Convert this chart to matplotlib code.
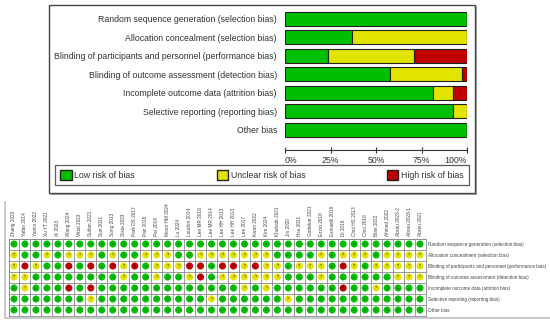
import numpy as np
import matplotlib
matplotlib.use("Agg")
import matplotlib.pyplot as plt
from matplotlib.patches import Patch, Rectangle

plt.rcParams['font.family'] = ['Liberation Sans', 'DejaVu Sans']

domains = [
    "Random sequence generation (selection bias)",
    "Allocation concealment (selection bias)",
    "Blinding of participants and personnel (performance bias)",
    "Blinding of outcome assessment (detection bias)",
    "Incomplete outcome data (attrition bias)",
    "Selective reporting (reporting bias)",
    "Other bias",
]

studies = [
    "Zhang 2020", "Yafan 2014", "Yamin 2022", "Xu YT 2021", "Xi 2023",
    "Wang 2024", "Vittal 2023", "Sultan 2021", "Sun 2021", "Song 2013",
    "Sixta 2023", "Park DS 2017", "Pan 2018", "Pei 2014", "Moon HM 2024",
    "Lu 2024", "Loudon 2014", "Lee MR 2018", "Lee MR 2014", "Lee HH 2013",
    "Lee HH 2013", "Lee 2017", "Kwon 2022", "Kim 2024", "Khubaib 2021",
    "Jin 2020", "Hsu 2021", "Gadekar 2021", "Ezzat 2018", "Esmaeili 2019",
    "Di 2018", "Choi HS 2013", "Choi 2018", "Bian 2022", "Ahmad 2022",
    "Abreu 2023-2", "Abreu 2023-1", "Abreu 2021",
]

# one string per domain, one character per study: + low, ? unclear, - high
judgements = [
    "++++++++++" "++++++++++" "++++++++++" "++++++++",
    "?++?+???+?" "++???++???" "????++++?+" "???+????",
    "?-?++-+-+-" "?-+???--+-" "-?-??+???+" "-?+?????",
    "??++++++++" "?++?++?-+?" "?????+++?+" "+++++???",
    "+?+++-+-++" "++++++++++" "+?+?++++++" "-++?++++",
    "+++++++?++" "++++++++?+" "+++++?++++" "++++++++",
    "++++++++++" "++++++++++" "++++++++++" "++++++++",
]

GREEN = "#00bf00"
YELLOW = "#e3e300"
RED = "#c00000"
colors = {"+": GREEN, "?": YELLOW, "-": RED}
symbols = {"+": "+", "?": "?", "-": "\u2212"}

W, H = 550, 323


def box(x0, y0, x1, y1):
    return [x0 / W, 1 - y1 / H, (x1 - x0) / W, (y1 - y0) / H]


fig = plt.figure(figsize=(5.5, 3.23), dpi=100)

# frames
bg = fig.add_axes([0, 0, 1, 1], zorder=0)
bg.set_xlim(0, W)
bg.set_ylim(H, 0)
bg.axis('off')
bg.add_patch(Rectangle((48.5, 4.5), 426, 188.5, fill=False, ec='#444', lw=1))
bg.plot([49.5, 475.5, 475.5], [194.3, 194.3, 5.5], color='#999', lw=0.8)
bg.plot([4.5, 4.5, 550], [202, 318, 318], color='#c8c8c8', lw=1.4)

# summary bars
n = len(studies)
low = np.array([r.count('+') for r in judgements]) / n * 100
unc = np.array([r.count('?') for r in judgements]) / n * 100
high = np.array([r.count('-') for r in judgements]) / n * 100
y = np.arange(len(domains))

ax = fig.add_axes(box(285, 9.45, 467, 138.95), zorder=2)
kw = dict(height=0.76, edgecolor='#222', linewidth=0.8)
ax.barh(y, low, color=GREEN, **kw)
ax.barh(y, unc, left=low, color=YELLOW, **kw)
ax.barh(y, high, left=low + unc, color=RED, **kw)
ax.set_xlim(0, 100)
ax.set_ylim(len(domains) - 0.5, -0.5)
ax.set_yticks(y, domains)
ax.tick_params(axis='y', length=0, pad=5.8, labelsize=6.3, labelcolor='#333')
for s in ['top', 'right', 'left']:
    ax.spines[s].set_visible(False)
ax.spines['bottom'].set_position(('outward', 8))
ax.spines['bottom'].set_color('#333')
ax.spines['bottom'].set_linewidth(0.8)
ax.set_xticks([0, 25, 50, 75, 100], ['0%', '25%', '50%', '75%', '100%'])
ax.tick_params(axis='x', direction='inout', length=5, width=0.8, color='#333',
               labelsize=6.3, labelcolor='#333', pad=1.5)
tl = ax.get_xticklabels()
tl[0].set_ha('left')
tl[-1].set_ha('right')
ax.patch.set_alpha(0)

handles = [Patch(facecolor=GREEN, edgecolor='#222'),
           Patch(facecolor=YELLOW, edgecolor='#222'),
           Patch(facecolor=RED, edgecolor='#222')]
leg = fig.legend(handles, ["Low risk of bias", "Unclear risk of bias", "High risk of bias"],
                 loc='center', bbox_to_anchor=box(55, 163.3, 469, 186.7), mode='expand',
                 ncol=3, fancybox=False, edgecolor='#333', fontsize=6.3,
                 handlelength=1.3, handleheight=1.3, handletextpad=0.3,
                 borderpad=0.6, borderaxespad=0)
leg.get_frame().set_linewidth(0.9)
for t in leg.get_texts():
    t.set_color('#333')

# per-study grid
ax2 = fig.add_axes(box(8.5, 238.5, 425.5, 315.5), zorder=2)
ax2.set_xlim(-0.5, n - 0.5)
ax2.set_ylim(len(domains) - 0.5, -0.5)
ax2.set_xticks(np.arange(n), studies, rotation=90)
ax2.xaxis.tick_top()
ax2.set_yticks(y, domains)
ax2.yaxis.tick_right()
ax2.set_xticks(np.arange(-0.5, n), minor=True)
ax2.set_yticks(np.arange(-0.5, len(domains)), minor=True)
ax2.grid(which='minor', color='#8a8a8a', lw=0.6)
ax2.tick_params(which='both', length=0)
ax2.tick_params(axis='x', labelsize=3.4, pad=1.8, labelcolor='#444')
ax2.tick_params(axis='y', labelsize=3.3, pad=1.5, labelcolor='#444')
for s in ax2.spines.values():
    s.set_color('#8a8a8a')
    s.set_linewidth(0.6)

for i, row in enumerate(judgements):
    for j, c in enumerate(row):
        ax2.scatter(j, i, s=26, color=colors[c], edgecolor='none', zorder=3)
        ax2.text(j, i, symbols[c], fontsize=2.6, ha='center', va='center',
                 color='#111', zorder=4)

fig.savefig('out.png', dpi=100)
